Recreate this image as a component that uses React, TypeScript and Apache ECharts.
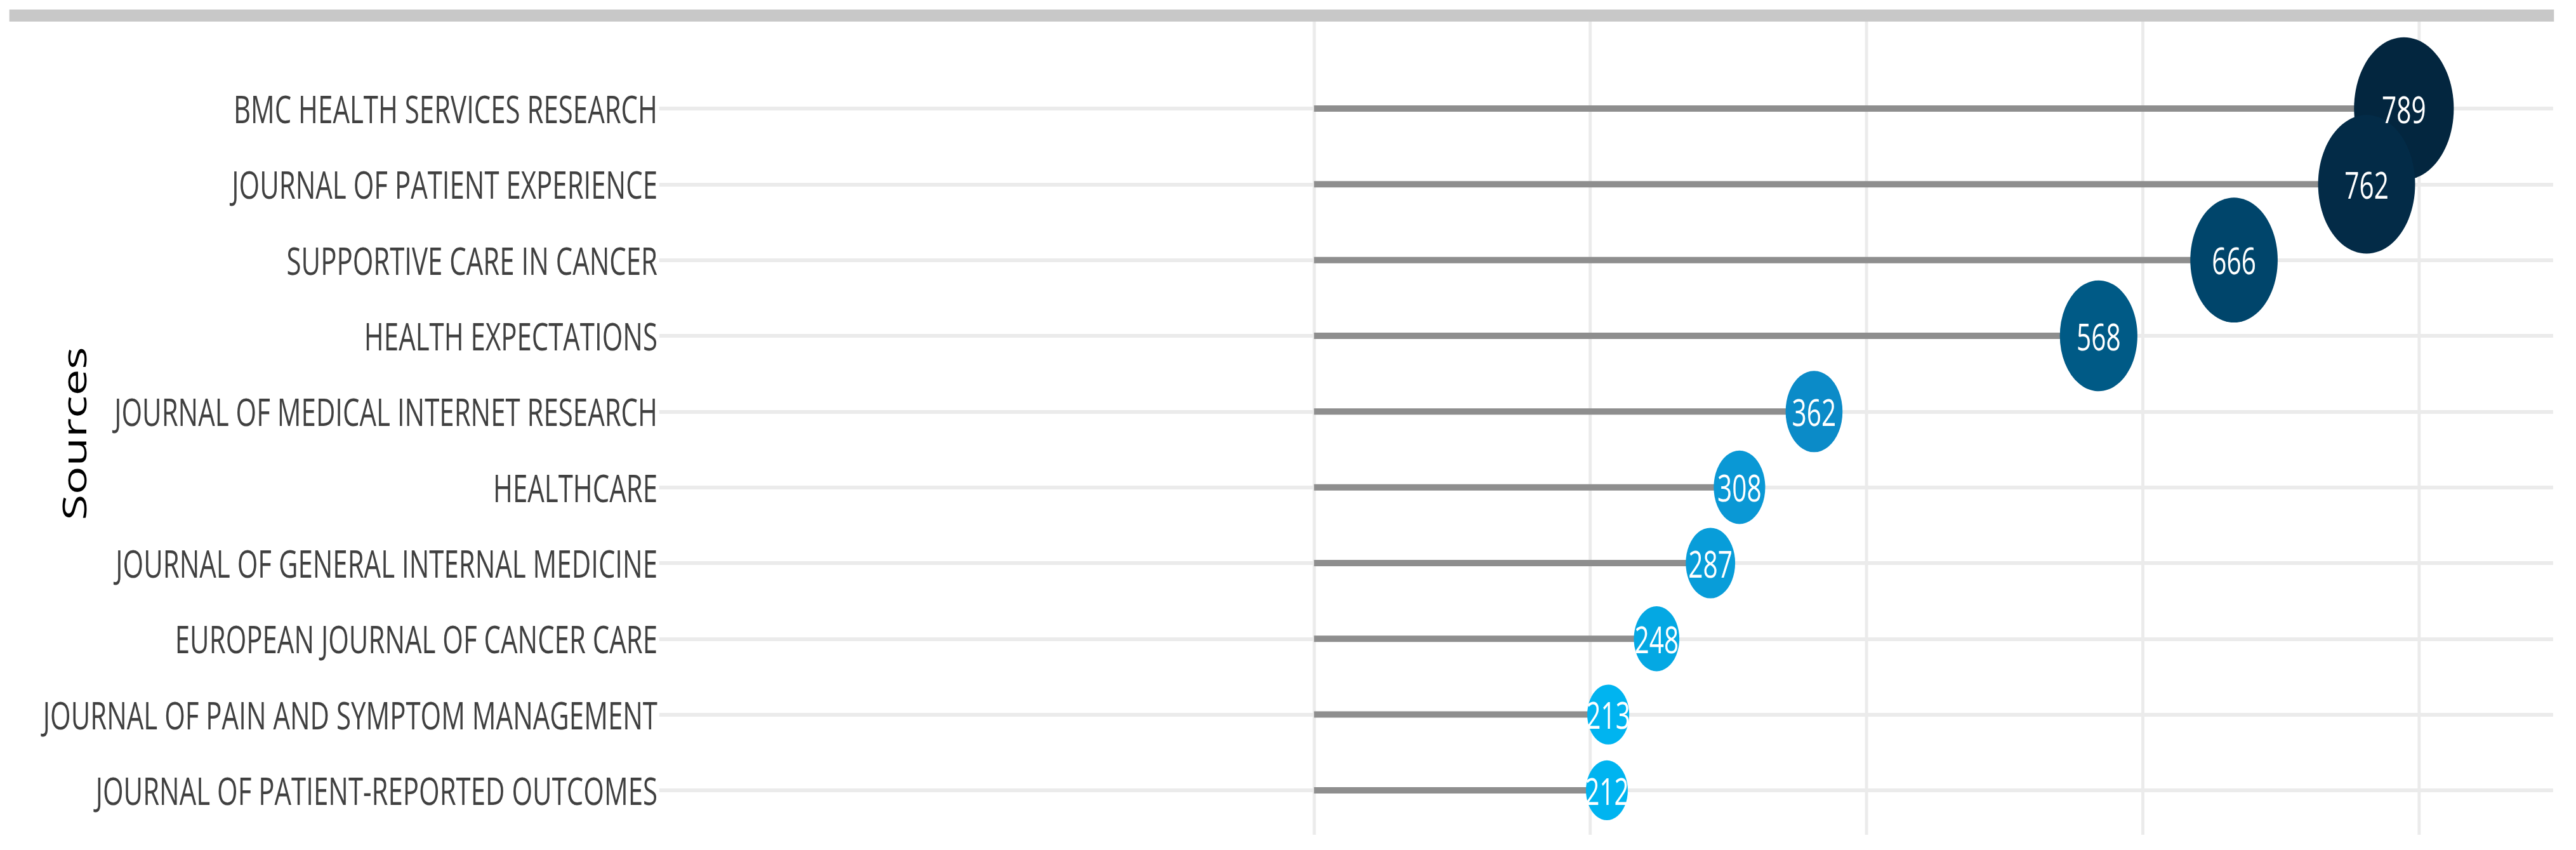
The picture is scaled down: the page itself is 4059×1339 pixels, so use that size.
import React, { useEffect, useRef } from "react";
import * as echarts from "echarts";

const sources = [
  "BMC HEALTH SERVICES RESEARCH",
  "JOURNAL OF PATIENT EXPERIENCE",
  "SUPPORTIVE CARE IN CANCER",
  "HEALTH EXPECTATIONS",
  "JOURNAL OF MEDICAL INTERNET RESEARCH",
  "HEALTHCARE",
  "JOURNAL OF GENERAL INTERNAL MEDICINE",
  "EUROPEAN JOURNAL OF CANCER CARE",
  "JOURNAL OF PAIN AND SYMPTOM MANAGEMENT",
  "JOURNAL OF PATIENT-REPORTED OUTCOMES",
];
const articles = [789, 762, 666, 568, 362, 308, 287, 248, 213, 212];
const xGridValues = [0, 200, 400, 600, 800];
const rowIndexes = sources.map((_, i) => i);

// horizontal squeeze of the reference picture
const SQUEEZE = 0.7;
const PAGE_W = 4059;
const PAGE_H = 1339;
const W = Math.round(PAGE_W / SQUEEZE);

const colorStops: [number, string][] = [
  [212, "#00b4f0"],
  [248, "#04a8e3"],
  [287, "#089dd9"],
  [308, "#0a98d5"],
  [362, "#0b8bc8"],
  [568, "#005a86"],
  [666, "#00456b"],
  [762, "#032b47"],
  [789, "#03263f"],
];

function hexToRgb(h: string) {
  const n = parseInt(h.slice(1), 16);
  return [(n >> 16) & 255, (n >> 8) & 255, n & 255];
}
function colorFor(v: number) {
  if (v <= colorStops[0][0]) return colorStops[0][1];
  for (let k = 1; k < colorStops.length; k++) {
    const [v1, c1] = colorStops[k];
    const [v0, c0] = colorStops[k - 1];
    if (v <= v1) {
      const t = (v - v0) / (v1 - v0);
      const a = hexToRgb(c0);
      const b = hexToRgb(c1);
      const m = a.map((x, j) => Math.round(x + (b[j] - x) * t));
      return `rgb(${m[0]},${m[1]},${m[2]})`;
    }
  }
  return colorStops[colorStops.length - 1][1];
}

export default function App() {
  const ref = useRef<HTMLDivElement>(null);
  useEffect(() => {
    document.body.style.margin = "0";
    const chart = echarts.init(ref.current!, null, { renderer: "svg" });
    const pointData = articles.map((v, i) => [v, i]);
    chart.setOption({
      animation: false,
      backgroundColor: "#ffffff",
      grid: { left: 1484, right: W - 5747, top: 34, bottom: PAGE_H - 1315, containLabel: false },
      xAxis: {
        type: "value",
        min: -474,
        max: 897,
        axisLine: { show: false },
        axisTick: { show: false },
        axisLabel: { show: false },
        splitLine: { show: false },
      },
      yAxis: {
        type: "value",
        inverse: true,
        min: -1.148,
        max: 9.587,
        axisLine: { show: false },
        axisTick: { show: false },
        splitLine: { show: false },
        axisLabel: {
          customValues: rowIndexes,
          formatter: (v: number) => sources[Math.round(v)] ?? "",
          color: "#404040",
          fontSize: 60,
          fontFamily: "Open Sans",
          margin: 4,
        },
      },
      graphic: [
        {
          type: "rect",
          left: 21,
          top: 15,
          shape: { width: 5728, height: 19 },
          style: { fill: "#c8c8c8" },
          z: 100,
        },
        {
          type: "text",
          x: 166,
          y: 683,
          rotation: Math.PI / 2,
          style: {
            text: "Sources",
            fontSize: 74,
            fontFamily: "Open Sans",
            fill: "#000000",
            align: "center",
            verticalAlign: "middle",
          },
        },
      ],
      series: [
        {
          type: "line",
          z: 0,
          data: pointData,
          showSymbol: false,
          lineStyle: { opacity: 0 },
          silent: true,
          markLine: {
            silent: true,
            z: 0,
            symbol: "none",
            label: { show: false },
            emphasis: { disabled: true },
            data: [
              ...xGridValues.map((v) => ({ xAxis: v, lineStyle: { color: "#ebebeb", width: 7, type: "solid" } })),
              ...rowIndexes.map((i) => ({ yAxis: i, lineStyle: { color: "#ebebeb", width: 6, type: "solid" } })),
            ],
          },
        },
        {
          type: "custom",
          z: 2,
          silent: true,
          encode: { x: 0, y: 1 },
          data: pointData,
          renderItem: (params: any, api: any) => {
            const v = api.value(0);
            const i = api.value(1);
            const p0 = api.coord([0, i]);
            const p1 = api.coord([v, i]);
            return {
              type: "line",
              shape: { x1: p0[0], y1: p0[1], x2: p1[0], y2: p1[1] },
              style: { stroke: "#8e8e8e", lineWidth: 10 },
            };
          },
        },
        {
          type: "scatter",
          z: 3,
          data: pointData,
          symbol: "circle",
          symbolSize: (val: number[]) => 46.4 + 0.2257 * val[0],
          itemStyle: {
            color: (p: any) => colorFor(p.value[0]),
            opacity: 1,
          },
          label: {
            show: true,
            position: "inside",
            formatter: (p: any) => String(p.value[0]),
            color: "#ffffff",
            fontSize: 58,
            fontFamily: "Open Sans",
          },
          emphasis: { disabled: true },
        },
      ],
    });
    return () => chart.dispose();
  }, []);
  return (
    <div
      style={{
        position: "fixed",
        left: 0,
        top: 0,
        width: PAGE_W,
        height: PAGE_H,
        overflow: "hidden",
        background: "#ffffff",
      }}
    >
      <div
        ref={ref}
        style={{
          width: W,
          height: PAGE_H,
          transform: `scaleX(${SQUEEZE})`,
          transformOrigin: "0 0",
        }}
      />
    </div>
  );
}
